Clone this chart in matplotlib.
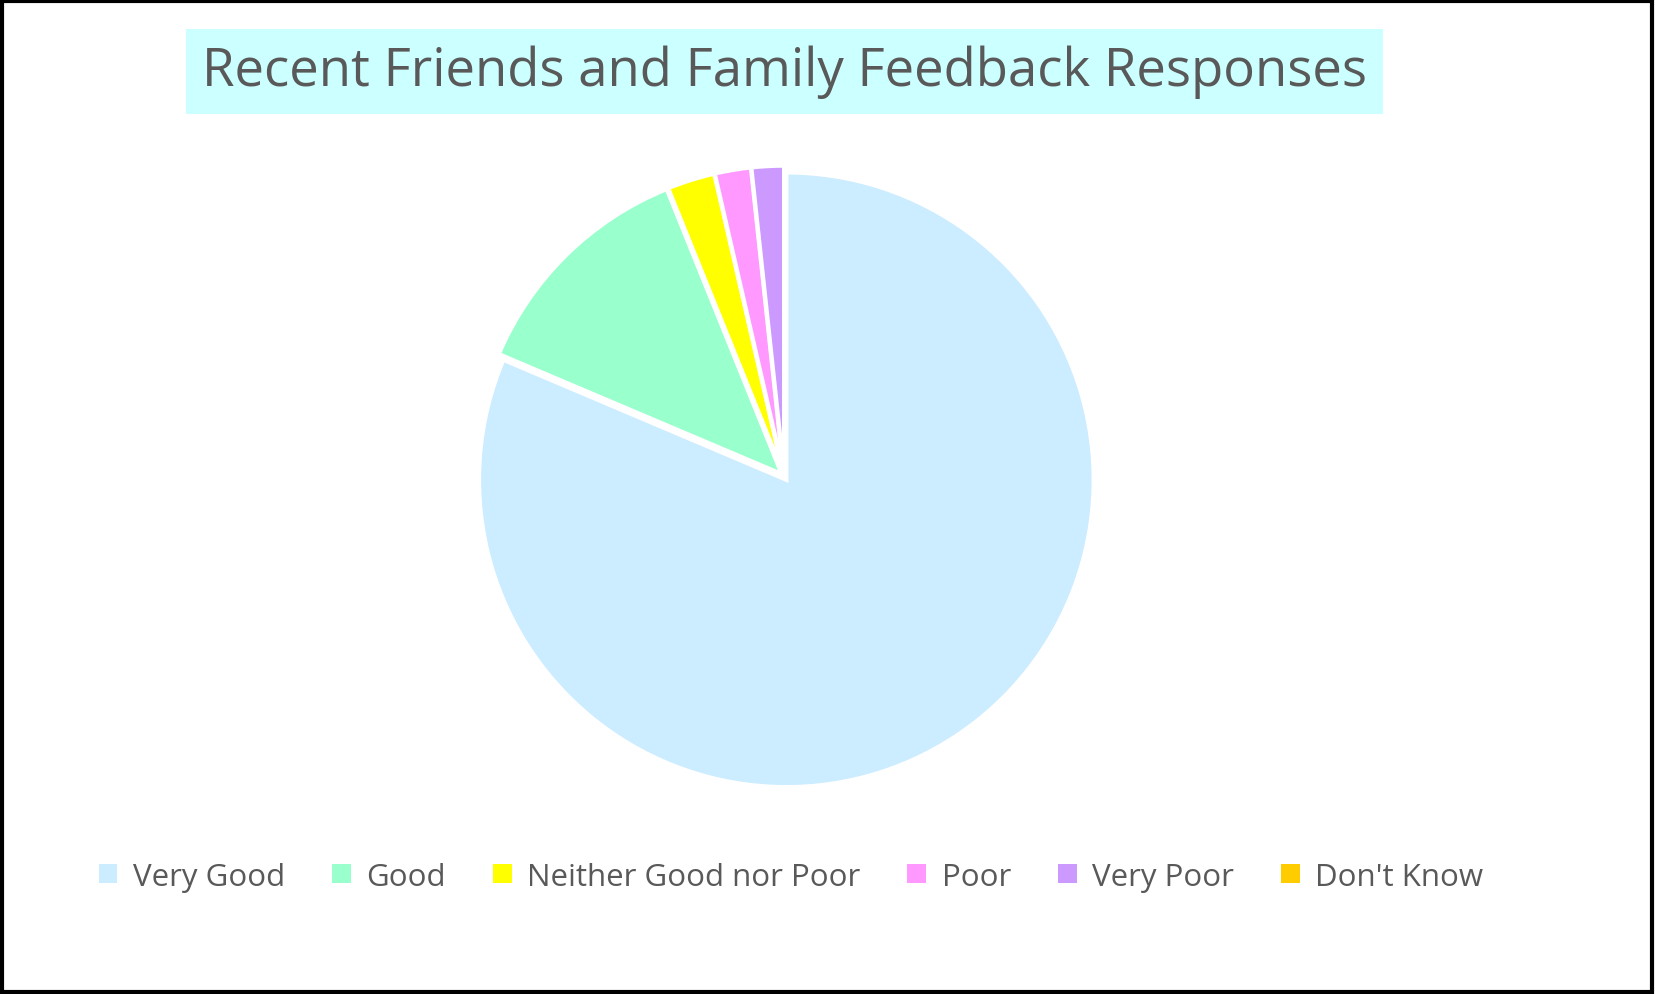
import matplotlib
matplotlib.use('Agg')
from matplotlib import pyplot as plt
from matplotlib.patches import Patch, Rectangle

plt.rcParams['font.family'] = ['Open Sans', 'DejaVu Sans']

labels = ['Very Good', 'Good', 'Neither Good nor Poor', 'Poor', 'Very Poor', "Don't Know"]
values = [81.3, 12.5, 2.5, 1.9, 1.7, 0.0]
colors = ['#CCECFF', '#99FFCC', '#FFFF00', '#FF99FF', '#CC99FF', '#FFCC00']
text_col = '#595959'

fig = plt.figure(figsize=(16.55, 9.95), dpi=100)
fig.patches.append(Rectangle((0.001, 0.002), 0.997, 0.996, transform=fig.transFigure,
                             fill=False, edgecolor='black', linewidth=3))

ax = fig.add_axes([0.474 - 0.1886, 0.52 - 0.3136, 0.377, 0.627])
ax.pie(values, colors=colors, startangle=90, counterclock=False,
       explode=[0.012] * len(values),
       wedgeprops={'edgecolor': 'white', 'linewidth': 3})
ax.set_xlim(-1.015, 1.015)
ax.set_ylim(-1.015, 1.015)
ax.set_aspect('equal')

fig.text(0.474, 0.927, 'Recent Friends and Family Feedback Responses', ha='center', va='center',
         fontsize=38, color=text_col,
         bbox=dict(boxstyle='square,pad=0.3', facecolor='#CCFFFF', edgecolor='none'))

handles = [Patch(facecolor=c, edgecolor='none') for c in colors]
fig.legend(handles, labels, loc='center', bbox_to_anchor=(0.478, 0.118), ncol=6,
           frameon=False, fontsize=22.5, labelcolor=text_col, handlelength=0.6,
           handleheight=0.6, handletextpad=0.5, columnspacing=1.5)

fig.savefig('out.png', dpi=100)
